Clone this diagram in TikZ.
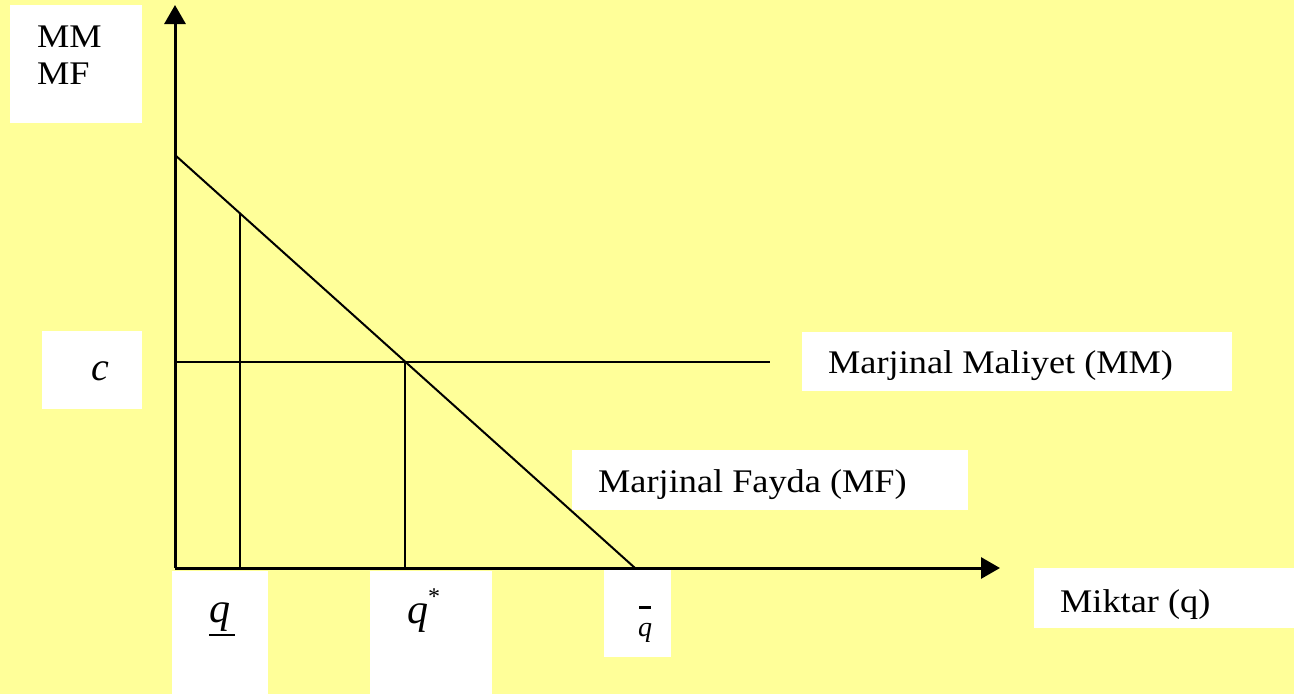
\documentclass[tikz,border=0pt]{standalone}
\usepackage{fontspec}
\setmainfont{Liberation Serif}
\usepackage{graphicx}
\usetikzlibrary{arrows.meta}
\definecolor{paleyellow}{RGB}{255,255,153}
\newcommand{\widetxt}[1]{\scalebox{1.1}[1]{#1}}
\tikzset{>={Triangle[length=19pt,width=21pt]}}
\tikzset{lbl/.style={anchor=base west,inner sep=0pt,
    font=\fontsize{33}{38}\selectfont}}
\tikzset{box/.style={fill=white}}

\begin{document}
\begin{tikzpicture}[x=1pt,y=-1pt]
    \fill [paleyellow] (0,0) rectangle (1294,694);
    \useasboundingbox (0,0) rectangle (1294,694);

    \coordinate (o) at (175, 568);
    \coordinate (ytop) at (175, 5);
    \coordinate (xend) at (1000, 568);
    \coordinate (mf0) at (175, 155);
    \coordinate (mf1) at (635, 568);
    \coordinate (mm0) at (175, 362);
    \coordinate (mm1) at (770, 362);
    \coordinate (qlow) at (240, 213);
    \coordinate (qlow0) at (240, 568);
    \coordinate (qstar) at (405, 362);
    \coordinate (qstar0) at (405, 568);

    \draw [line width=2pt] (mf0) -- (mf1);
    \draw [line width=2pt] (mm0) -- (mm1);
    \draw [line width=2pt] (qlow0) -- (qlow);
    \draw [line width=2pt] (qstar0) -- (qstar);

    \draw [->,line width=3pt] (o) -- (ytop);
    \draw [->,line width=3pt] (o) -- (xend);

    % white label boxes
    \fill [box] (10, 5) rectangle (142, 123);
    \fill [box] (42, 331) rectangle (142, 409);
    \fill [box] (172, 571) rectangle (268, 694);
    \fill [box] (370, 571) rectangle (492, 694);
    \fill [box] (604, 570) rectangle (671, 657);
    \fill [box] (802, 332) rectangle (1232, 391);
    \fill [box] (572, 450) rectangle (968, 510);
    \fill [box] (1034, 568) rectangle (1294, 628);

    \node [lbl] (mmlbl) at (37, 47) {\widetxt{MM}};
    \node [lbl] (mflbl) at (37, 84) {\widetxt{MF}};
    \node [lbl,font=\fontsize{40}{44}\selectfont] (clbl) at (91, 380)
    {\textit{c}};
    \node [lbl,font=\fontsize{42}{44}\selectfont] (qlowlbl) at (209, 622)
    {\rlap{\rule[-14pt]{26pt}{1.6pt}}\textit{q}};
    \node [lbl,font=\fontsize{42}{44}\selectfont] (qstarlbl) at (407, 623)
    {\textit{q}\raisebox{0.45em}{\fontsize{24}{24}\selectfont *}};
    \node [anchor=south,inner sep=0pt,font=\fontsize{28}{28}\selectfont]
    (qbarlbl) at (645, 643) {\shortstack{\rule{12pt}{3pt}\\[12pt]\textit{q}}};

    \node [lbl] (mmcurve) at (828, 373) {\widetxt{Marjinal Maliyet (MM)}};
    \node [lbl] (mfcurve) at (598, 492) {\widetxt{Marjinal Fayda (MF)}};
    \node [lbl] (xlbl) at (1060, 612) {\widetxt{Miktar (q)}};

  \end{tikzpicture}
\end{document}
